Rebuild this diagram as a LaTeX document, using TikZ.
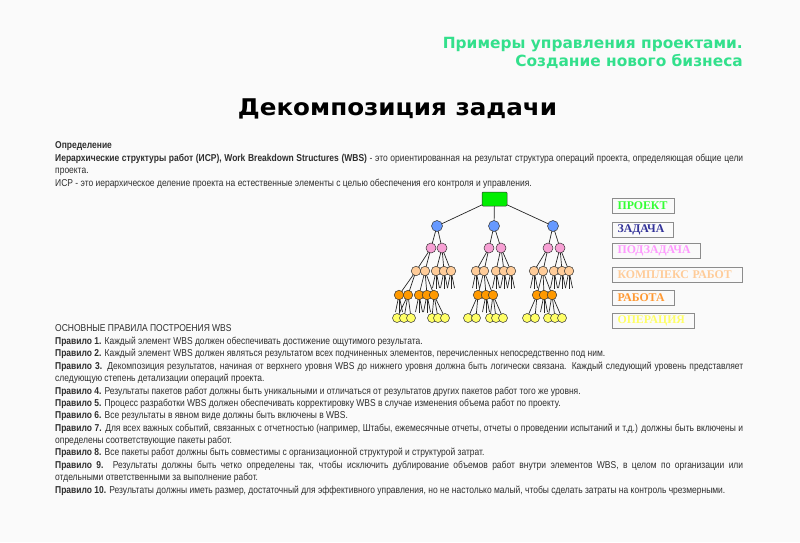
\documentclass[tikz,border=0pt]{standalone}
\usepackage{fontspec}
\setmainfont{Liberation Sans}
\newfontfamily\titlefont[FakeStretch=1.07]{DejaVu Sans}
\newfontfamily\hdrfont{DejaVu Sans}
\newfontfamily\bodyfont[FakeStretch=0.848]{Liberation Sans}
\newfontfamily\legendfont{Liberation Serif}
\pgfdeclarelayer{background}
\pgfsetlayers{background,main}
\definecolor{bgcol}{HTML}{FAFAFA}
\definecolor{titlegreen}{HTML}{33E08C}
\definecolor{txt}{HTML}{2E2E2E}
\definecolor{cRoot}{HTML}{00EE00}
\definecolor{cBlue}{HTML}{6699FF}
\definecolor{cPink}{HTML}{F7A0D4}
\definecolor{cPeach}{HTML}{FFCC99}
\definecolor{cOrange}{HTML}{FF9900}
\definecolor{cYellow}{HTML}{FFFF66}
\definecolor{lProj}{HTML}{33FF33}
\definecolor{lTask}{HTML}{333399}
\definecolor{lSub}{HTML}{FF99FF}
\definecolor{lKomp}{HTML}{FFCC99}
\definecolor{lWork}{HTML}{FF9933}
\definecolor{lOp}{HTML}{FFFF66}
\definecolor{boxline}{HTML}{8C8C8C}
\begin{document}
\begin{tikzpicture}[x=1pt,y=-1pt,
  circ/.style={circle,draw=black!80,line width=0.5pt,inner sep=0pt},
  bnode/.style={circ,fill=cBlue,minimum size=11pt},
  pnode/.style={circ,fill=cPink,minimum size=10pt},
  cnode/.style={circ,fill=cPeach,minimum size=9.5pt},
  onode/.style={circ,fill=cOrange,minimum size=9.5pt},
  ynode/.style={circ,fill=cYellow,minimum size=9pt},
  rootbox/.style={draw=black!80,line width=0.5pt,fill=cRoot,minimum width=25pt,minimum height=14pt,inner sep=0pt,rounded corners=1pt},
  edge/.style={draw=black!85,line width=0.7pt},
  legbox/.style={draw=boxline,line width=1.2pt,anchor=north west,minimum height=15pt,inner xsep=5pt,inner ysep=0pt,align=left,font=\legendfont\bfseries\fontsize{11.8}{13}\selectfont},
  body/.style={anchor=base west,inner sep=0pt,text=txt,font=\bodyfont\fontsize{10}{12}\selectfont},
  hdr/.style={anchor=base east,inner sep=0pt,text=titlegreen,font=\hdrfont\bfseries\fontsize{15.4}{18}\selectfont}
]
\begin{pgfonlayer}{background}
\fill[bgcol] (0,0) rectangle (800,542);
\end{pgfonlayer}
\useasboundingbox (0,0) rectangle (800,542);

% headers
\node[hdr] (h1) at (743,48.5) {Примеры управления проектами.};
\node[hdr] (h2) at (743,66.5) {Создание нового бизнеса};
\node[anchor=base,inner sep=0pt,font=\titlefont\bfseries\fontsize{23}{27}\selectfont] (title) at (397.5,115.5) {Декомпозиция задачи};

% definition
\node[body] (d1) at (55,148.5) {\textbf{Определение}};
\node[body] (d2) at (55,161.5) {\makebox[688pt][s]{\textbf{Иерархические структуры работ (ИСР), Work Breakdown Structures (WBS)} - это ориентированная на результат структура операций проекта, определяющая общие цели}};
\node[body] (d3) at (55,173.5) {проекта.};
\node[body] (d4) at (55,186.5) {ИСР - это иерархическое деление проекта на естественные элементы с целью обеспечения его контроля и управления.};

% rules
\node[body] (r0) at (55,331.5) {ОСНОВНЫЕ ПРАВИЛА ПОСТРОЕНИЯ WBS};
\node[body] (r1) at (55,344.5) {\textbf{Правило 1.} Каждый элемент WBS должен обеспечивать достижение ощутимого результата.};
\node[body] (r2) at (55,356.5) {\textbf{Правило 2.} Каждый элемент WBS должен являться результатом всех подчиненных элементов, перечисленных непосредственно под ним.};
\node[body] (r3) at (55,369.5) {\makebox[688pt][s]{\textbf{Правило 3.} Декомпозиция результатов, начиная от верхнего уровня WBS до нижнего уровня должна быть логически связана. Каждый следующий уровень представляет}};
\node[body] (r3b) at (55,381.5) {следующую степень детализации операций проекта.};
\node[body] (r4) at (55,394.5) {\textbf{Правило 4.} Результаты пакетов работ должны быть уникальными и отличаться от результатов других пакетов работ того же уровня.};
\node[body] (r5) at (55,406.5) {\textbf{Правило 5.} Процесс разработки WBS должен обеспечивать корректировку WBS в случае изменения объема работ по проекту.};
\node[body] (r6) at (55,418.5) {\textbf{Правило 6.} Все результаты в явном виде должны быть включены в WBS.};
\node[body] (r7) at (55,431.5) {\makebox[688pt][s]{\textbf{Правило 7.} Для всех важных событий, связанных с отчетностью (например, Штабы, ежемесячные отчеты, отчеты о проведении испытаний и т.д.) должны быть включены и}};
\node[body] (r7b) at (55,443.5) {определены соответствующие пакеты работ.};
\node[body] (r8) at (55,455.5) {\textbf{Правило 8.} Все пакеты работ должны быть совместимы с организационной структурой и структурой затрат.};
\node[body] (r9) at (55,468.5) {\makebox[688pt][s]{\textbf{Правило 9.} Результаты должны быть четко определены так, чтобы исключить дублирование объемов работ внутри элементов WBS, в целом по организации или}};
\node[body] (r9b) at (55,480.5) {отдельными ответственными за выполнение работ.};
\node[body] (r10) at (55,493.5) {\textbf{Правило 10.} Результаты должны иметь размер, достаточный для эффективного управления, но не настолько малый, чтобы сделать затраты на контроль чрезмерными.};

% legend
\node[legbox,text=lProj,text width=52pt] (L1) at (612,197.5) {ПРОЕКТ};
\node[legbox,text=lTask,text width=51pt] (L2) at (612,221.5) {ЗАДАЧА};
\node[legbox,text=lSub,text width=78pt] (L3) at (612,243) {ПОДЗАДАЧА};
\node[legbox,text=lKomp,text width=120pt] (L4) at (612,267) {КОМПЛЕКС РАБОТ};
\node[legbox,text=lWork,text width=52pt] (L5) at (612,290) {РАБОТА};
\node[legbox,text=lOp,text width=72pt] (L6) at (612,313) {ОПЕРАЦИЯ};

% tree nodes
\node[rootbox] (R) at (494.5,199) {};
\foreach \n/\x in {B1/437,B2/494,B3/553} \node[bnode] (\n) at (\x,226) {};
\foreach \n/\x in {P11/431,P12/442,P21/489,P22/501,P31/548,P32/560} \node[pnode] (\n) at (\x,248) {};
\foreach \n/\x in {C111/416,C112/425,C121/436,C122/444,C123/451,C211/476,C212/484,C221/496,C222/504,C223/511,C311/534,C312/543,C321/554,C322/562,C323/569} \node[cnode] (\n) at (\x,271) {};
\foreach \n/\x in {O1/399,O2/408,O3/419,O4/427,O5/434,O6/478,O7/486,O8/493,O9/537,O10/544,O11/552} \node[onode] (\n) at (\x,295) {};
\foreach \n/\x in {Y1/397,Y2/404,Y3/411,Y4/432,Y5/438,Y6/445,Y7/468,Y8/476,Y9/490,Y10/496,Y11/503,Y12/527,Y13/535,Y14/548,Y15/555,Y16/562} \node[ynode] (\n) at (\x,318) {};

% fringe end points
\foreach \n in {C121,C122,C123,C211,C221,C222,C223,C311,C321,C322,C323,O1,O3,O4,O7,O10} {
  \coordinate (\n-a) at ([shift={(-3.5,12)}]\n.south);
  \coordinate (\n-b) at ([shift={(0,12.5)}]\n.south);
  \coordinate (\n-c) at ([shift={(3.5,12)}]\n.south);
}

\begin{pgfonlayer}{background}
\foreach \p/\c in {R/B1,R/B2,R/B3,
  B1/P11,B1/P12,B2/P21,B2/P22,B3/P31,B3/P32,
  P11/C111,P11/C112,P12/C121,P12/C122,P12/C123,
  P21/C211,P21/C212,P22/C221,P22/C222,P22/C223,
  P31/C311,P31/C312,P32/C321,P32/C322,P32/C323,
  C111/O1,C111/O2,C112/O3,C112/O4,C112/O5,
  C212/O6,C212/O7,C212/O8,C312/O9,C312/O10,C312/O11,
  O2/Y1,O2/Y2,O2/Y3,O5/Y4,O5/Y5,O5/Y6,
  O6/Y7,O6/Y8,O8/Y9,O8/Y10,O8/Y11,
  O9/Y12,O9/Y13,O11/Y14,O11/Y15,O11/Y16}
  \draw[edge] (\p.center) -- (\c.center);
\foreach \n in {C121,C122,C123,C211,C221,C222,C223,C311,C321,C322,C323,O1,O3,O4,O7,O10} {
  \draw[edge] (\n.center) -- (\n-a);
  \draw[edge] (\n.center) -- (\n-b);
  \draw[edge] (\n.center) -- (\n-c);
}
\end{pgfonlayer}
\end{tikzpicture}
\end{document}
